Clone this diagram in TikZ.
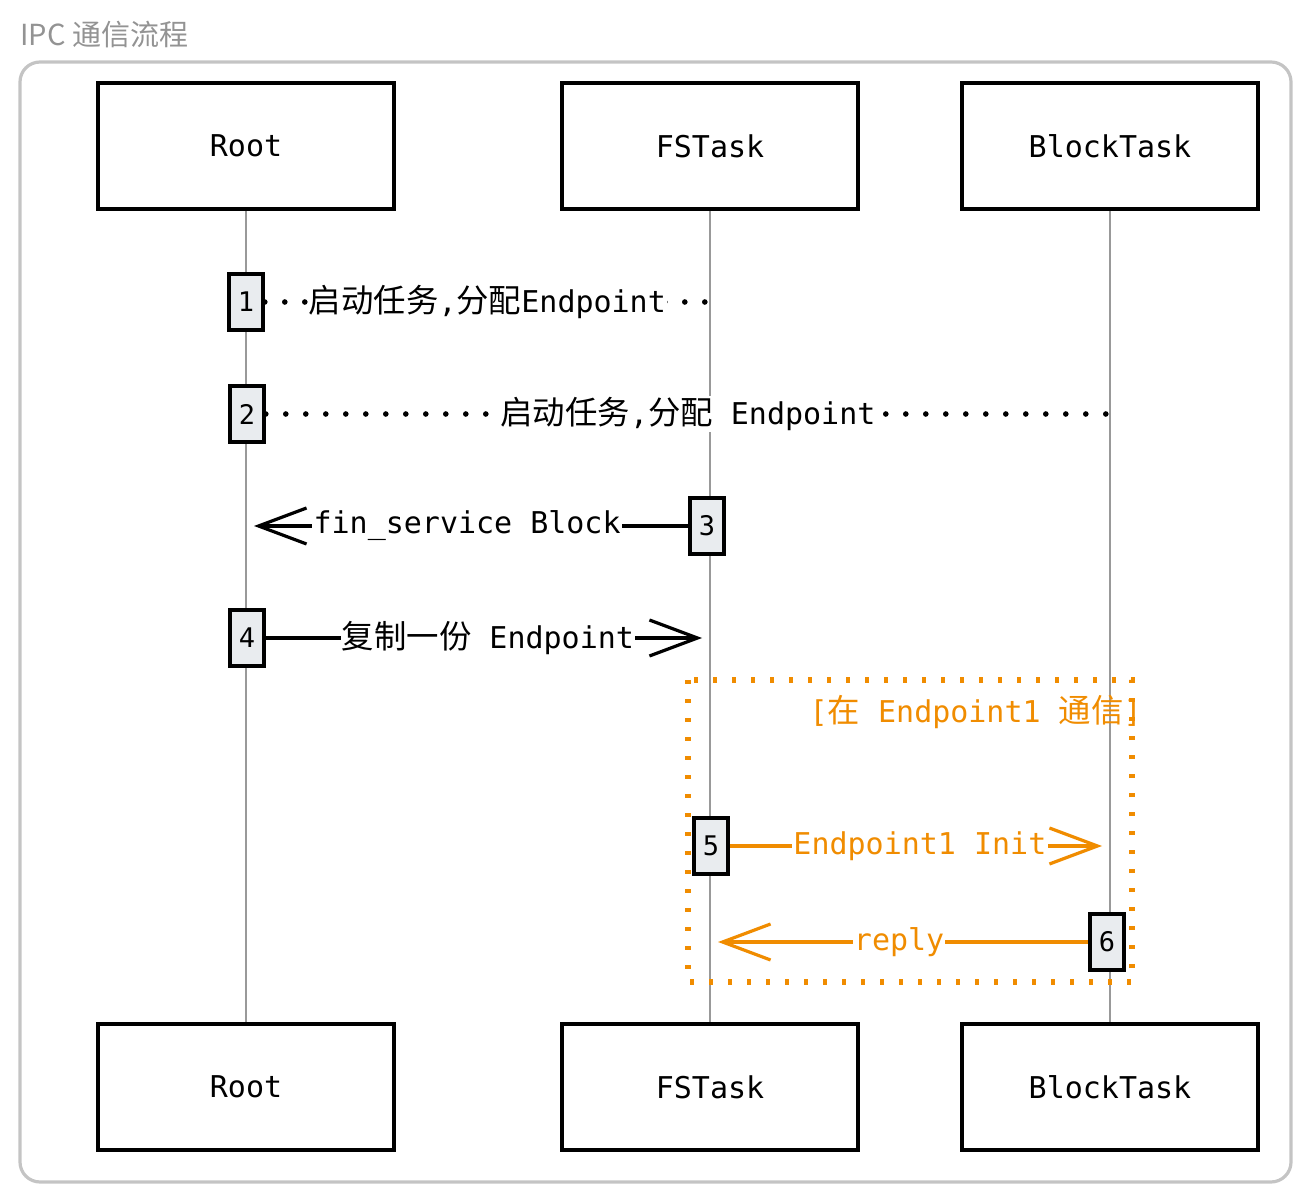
\documentclass[tikz,border=0pt]{standalone}
\usepackage{fontspec}
\setmainfont{DejaVu Sans Mono}
\newfontfamily\cjk[Scale=1.08]{Noto Sans CJK SC}
\newfontfamily\titlefont{Noto Sans CJK SC}
\usetikzlibrary{arrows.meta}
\definecolor{ora}{HTML}{F08C00}
\definecolor{actfill}{HTML}{E9ECEF}
\definecolor{frame}{HTML}{C4C4C4}
\tikzset{
 part/.style
  = {rectangle, draw, line width=1.8pt, minimum width=148pt, minimum height=63pt,
     font=\fontsize{15}{18}\selectfont},
 act/.style
  = {rectangle, draw, line width=1.8pt, fill=actfill, minimum width=17pt,
     minimum height=28pt, inner sep=0pt, font=\fontsize{13.5}{16}\selectfont},
 life/.style
  = {draw, gray!80, line width=0.7pt},
 l/.style
  = {draw, line width=1.6pt, -{Straight Barb[length=24pt,width=18pt,line width=1.6pt]}},
 ld/.style
  = {draw, line width=2.8pt, line cap=round, dash pattern=on 0pt off 10pt},
 lo/.style
  = {l, ora},
 t/.style
  = {fill=white, inner sep=0.6pt, font=\fontsize{15}{18}\selectfont},
 grp/.style
  = {draw, ora, line width=2.8pt, dash pattern=on 2pt off 7.5pt}
}

\begin{document}
\begin{tikzpicture}[x=0.5pt, y=-0.5pt]
    \useasboundingbox (0,0) rectangle (1311,1202);
    \node [anchor=west, text=gray!85, inner sep=0pt, font=\titlefont\fontsize{14.5}{17}\selectfont] (title) at (20,35) {IPC 通信流程};
    \draw [frame, line width=1.6pt, rounded corners=10pt] (20,62) rectangle (1291,1182);

    % participants
    \node [part] (root) at (246,146) {Root};
    \node [part] (fstask) at (710,146) {FSTask};
    \node [part] (blocktask) at (1110,146) {BlockTask};
    \node [part] (rootb) at (246,1087) {Root};
    \node [part] (fstaskb) at (710,1087) {FSTask};
    \node [part] (blocktaskb) at (1110,1087) {BlockTask};

    \path [life] (root) -- (rootb);
    \path [life] (fstask) -- (fstaskb);
    \path [life] (blocktask) -- (blocktaskb);

    % group
    \draw [grp] (688,680) rectangle (1132,982);
    \node [anchor=east, text=ora, inner sep=0pt, font=\fontsize{15}{18}\selectfont] (grplabel) at (1142,712) {[{\cjk 在} Endpoint1 {\cjk 通信}]};

    % activations
    \node [act] (a1) at (246,302) {1};
    \node [act] (a2) at (247,414) {2};
    \node [act] (a3) at (707,526) {3};
    \node [act] (a4) at (247,638) {4};
    \node [act] (a5) at (711,846) {5};
    \node [act] (a6) at (1107,942) {6};

    % messages
    \path [ld] (a1.east) -- (a1.east -| fstask) node[t, midway]{{\cjk 启动任务},{\cjk 分配}Endpoint};
    \path [ld] (a2.east) -- (a2.east -| blocktask) node[t, midway]{{\cjk 启动任务},{\cjk 分配} Endpoint};
    \path [l, shorten >=4pt] (a3.west) -- (a3.west -| root) node[t, midway]{fin\_service Block};
    \path [l, shorten >=4pt] (a4.east) -- (a4.east -| fstask) node[t, midway]{{\cjk 复制一份} Endpoint};
    \path [lo, shorten >=4pt] (a5.east) -- (a5.east -| blocktask) node[t, midway, text=ora]{Endpoint1 Init};
    \path [lo, shorten >=4pt] (a6.west) -- (a6.west -| fstask) node[t, midway, text=ora]{reply};

\end{tikzpicture}
\end{document}
